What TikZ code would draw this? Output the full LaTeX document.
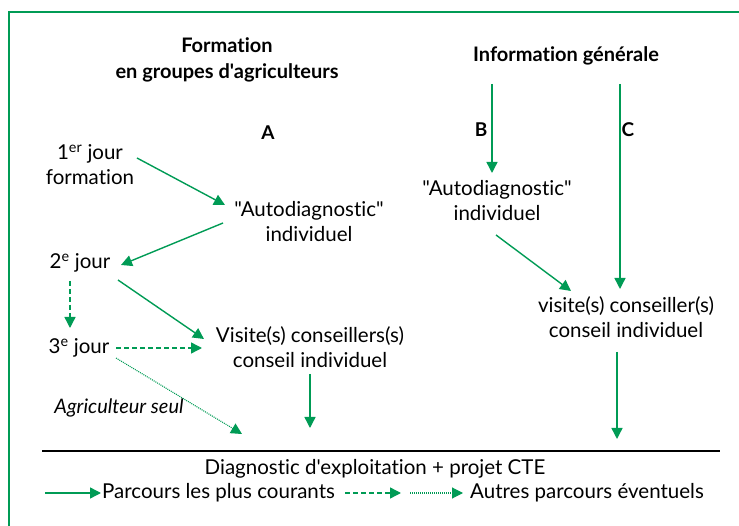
\documentclass[tikz,border=0pt]{standalone}
\usepackage{fontspec}
\setmainfont{Lato}[Ligatures={TeXOff,NoCommon}]
\usetikzlibrary{arrows.meta}
\definecolor{vert}{RGB}{0,155,85}
\tikzset{
  txt/.style={font=\fontsize{20.5}{25}\selectfont, align=center, inner sep=0pt},
  head/.style={font=\fontsize{20}{26}\bfseries\selectfont, align=center, inner sep=0pt},
  lab/.style={font=\fontsize{19}{20}\bfseries\selectfont, inner sep=0pt},
  arr/.style={draw=vert, line width=1.4pt, -{Triangle[length=11pt,width=11pt]}},
  darr/.style={arr, dash pattern=on 5pt off 3pt},
  oarr/.style={arr, line width=1.1pt, dash pattern=on 1pt off 1pt},
}
\begin{document}
\begin{tikzpicture}[x=1pt,y=-1pt]
\useasboundingbox (0,0) rectangle (739,526);
% frame
\draw[vert, line width=1.3pt] (9,526) -- (9,12) -- (739,12);
% headings
\node[head] (hA) at (227,60) {Formation\\en groupes d'agriculteurs};
\node[head] (hB) at (566,56) {Information générale};
\node[lab] (lA) at (268,133) {A};
\node[lab] (lB) at (481,130) {B};
\node[lab] (lC) at (628,130) {C};
% left column
\node[txt] (j1) at (90,165) {1\textsuperscript{er} jour\\formation};
\node[txt] (adA) at (309,222) {"Autodiagnostic"\\individuel};
\node[txt] (j2) at (80,263) {2\textsuperscript{e} jour};
\node[txt] (j3) at (79,348) {3\textsuperscript{e} jour};
\node[txt] (visA) at (310,347) {Visite(s) conseillers(s)\\conseil individuel};
\node[txt, font=\fontsize{20}{25}\itshape\selectfont] (seul) at (119,408) {Agriculteur seul};
% right column
\node[txt] (adB) at (497,201) {"Autodiagnostic"\\individuel};
\node[txt] (visB) at (626,317) {visite(s) conseiller(s)\\conseil individuel};
% bottom
\draw[line width=1.2pt] (42,451) -- (720,451);
\node[txt] (diag) at (375,469) {Diagnostic d'exploitation + projet CTE};
% coordinates
\coordinate (b0) at (492,84);  \coordinate (b1) at (492,173);
\coordinate (c0) at (620,84);  \coordinate (c1) at (620,289);
\coordinate (p1) at (137,158); \coordinate (p2) at (225,205);
\coordinate (p3) at (223,223); \coordinate (p4) at (121,265);
\coordinate (p5) at (70,281);  \coordinate (p6) at (70,328);
\coordinate (p7) at (118,280); \coordinate (p8) at (204,339);
\coordinate (p9) at (116,348); \coordinate (p10) at (202,348);
\coordinate (p11) at (116,358); \coordinate (p12) at (242,434);
\coordinate (p13) at (310,374); \coordinate (p14) at (310,428);
\coordinate (q1) at (496,235); \coordinate (q2) at (571,291);
\coordinate (q3) at (617,352); \coordinate (q4) at (617,439);
\draw[arr] (b0) -- (b1);
\draw[arr] (c0) -- (c1);
\draw[arr] (p1) -- (p2);
\draw[arr] (p3) -- (p4);
\draw[darr] (p5) -- (p6);
\draw[arr] (p7) -- (p8);
\draw[darr] (p9) -- (p10);
\draw[oarr] (p11) -- (p12);
\draw[arr] (p13) -- (p14);
\draw[arr] (q1) -- (q2);
\draw[arr] (q3) -- (q4);
% legend
\coordinate (l1) at (45,493); \coordinate (l2) at (101,493);
\coordinate (l3) at (345,493); \coordinate (l4) at (401,493);
\coordinate (l5) at (410,493); \coordinate (l6) at (463,493);
\draw[arr] (l1) -- (l2);
\node[txt, anchor=west] (leg1) at (102,493) {Parcours les plus courants};
\draw[darr] (l3) -- (l4);
\draw[oarr] (l5) -- (l6);
\node[txt, anchor=west] (leg2) at (470,493) {Autres parcours éventuels};
\end{tikzpicture}
\end{document}
